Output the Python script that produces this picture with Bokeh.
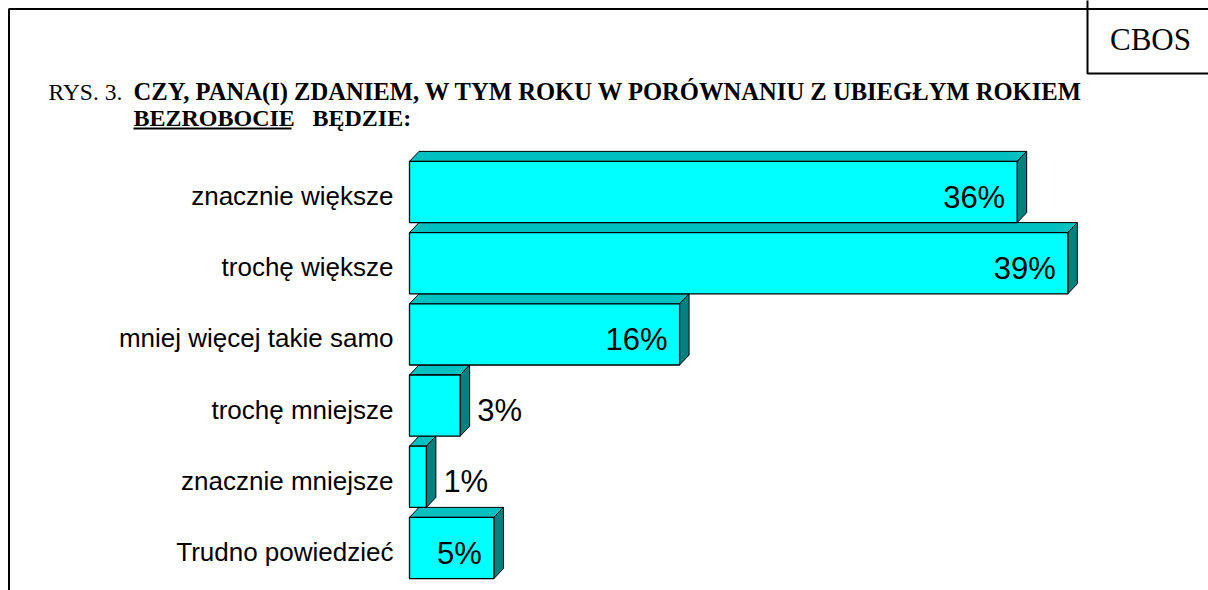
from bokeh.plotting import figure
from bokeh.models import Range1d, ColumnDataSource, Label, BoxAnnotation
from bokeh.embed import file_html
from bokeh.resources import INLINE
from bokeh.core.properties import value as pv

# ---- data ----
categories = ["znacznie większe", "trochę większe", "mniej więcej takie samo",
              "trochę mniejsze", "znacznie mniejsze", "Trudno powiedzieć"]
values = [36, 39, 16, 3, 1, 5]
value_labels = ["36%", "39%", "16%", "3%", "1%", "5%"]

title_prefix = "RYS. 3."
title_line1 = "CZY, PANA(I) ZDANIEM, W TYM ROKU W PORÓWNANIU Z UBIEGŁYM ROKIEM"
title_line2a = "BEZROBOCIE"
title_line2b = "BĘDZIE:"
source_tag = "CBOS"

# ---- layout constants ----
W, H = 1208, 590
PX_PER_PCT = 16.88
X0_PX = 409
ROW_PX = 71.2
ROW0_PX = 191.5
HALF = 0.43
DX = 9.5 / PX_PER_PCT
DY = 10 / ROW_PX

FRONT = "#00FFFF"
TOP = "#00C0C0"
SIDE = "#008080"

p = figure(width=W, height=H, output_backend="svg", toolbar_location=None,
           x_range=Range1d(-X0_PX / PX_PER_PCT, (W - X0_PX) / PX_PER_PCT),
           y_range=Range1d((H - ROW0_PX) / ROW_PX, -ROW0_PX / ROW_PX),
           x_axis_location=None, y_axis_location=None, min_border=0,
           outline_line_color=None, background_fill_color="white",
           border_fill_color="white")
p.grid.visible = False

idx = list(range(len(values)))

top_xs, top_ys, side_xs, side_ys = [], [], [], []
for i, v in zip(idx, values):
    t = i - HALF
    b = i + HALF
    top_xs.append([0, v, v + DX, DX])
    top_ys.append([t, t, t - DY, t - DY])
    side_xs.append([v, v + DX, v + DX, v])
    side_ys.append([t, t - DY, b - DY, b])

p.patches(top_xs, top_ys, fill_color=TOP, line_color="black", line_width=1)
p.patches(side_xs, side_ys, fill_color=SIDE, line_color="black", line_width=1)
p.quad(left=[0] * len(values), right=values,
       top=[i - HALF for i in idx], bottom=[i + HALF for i in idx],
       fill_color=FRONT, line_color="black", line_width=1.3)

# category labels
cat_src = ColumnDataSource(dict(x=[0] * len(values), y=[i + 4 / ROW_PX for i in idx], t=categories))
p.text(x="x", y="y", text="t", source=cat_src, x_offset=-16,
       text_font=pv("Liberation Sans"), text_font_size="26px",
       text_align="right", text_baseline="middle", text_color="black")

# value labels
inside = [v >= 5 for v in values]
in_src = ColumnDataSource(dict(x=[v for v, k in zip(values, inside) if k],
                               y=[i + 5 / ROW_PX for i, k in zip(idx, inside) if k],
                               t=[l for l, k in zip(value_labels, inside) if k]))
out_src = ColumnDataSource(dict(x=[v for v, k in zip(values, inside) if not k],
                                y=[i + 5 / ROW_PX for i, k in zip(idx, inside) if not k],
                                t=[l for l, k in zip(value_labels, inside) if not k]))
p.text(x="x", y="y", text="t", source=in_src, x_offset=-12,
       text_font=pv("Liberation Sans"), text_font_size="31px",
       text_align="right", text_baseline="middle", text_color="black")
p.text(x="x", y="y", text="t", source=out_src, x_offset=17,
       text_font=pv("Liberation Sans"), text_font_size="31px",
       text_align="left", text_baseline="middle", text_color="black")


def sx(px):
    return px


def sy(py):
    return H - py


def scr_box(l, r, t, b, **kw):
    return BoxAnnotation(left=sx(l), right=sx(r), top=sy(t), bottom=sy(b),
                         left_units="screen", right_units="screen",
                         top_units="screen", bottom_units="screen", **kw)


# frame (top + left line), open at right/bottom
p.add_layout(scr_box(8.5, 1500, 8.5, 900, fill_alpha=0, line_color="black",
                     line_alpha=1, line_width=2))
# CBOS box
p.add_layout(scr_box(1087, 1500, -100, 73, fill_alpha=0, line_color="black",
                     line_alpha=1, line_width=2))
p.add_layout(Label(x=sx(1150), y=sy(39), x_units="screen", y_units="screen",
                   text=source_tag, text_font="Liberation Serif", text_font_size="31px",
                   text_align="center", text_baseline="middle", text_color="black"))

# title
C1 = 91
C2 = 117
p.add_layout(Label(x=sx(48), y=sy(C1), x_units="screen", y_units="screen",
                   text=title_prefix, text_font="Liberation Serif", text_font_size="23.5px",
                   text_baseline="middle", text_color="black"))
p.add_layout(Label(x=sx(133), y=sy(C1), x_units="screen", y_units="screen",
                   text=title_line1, text_font="Liberation Serif", text_font_size="24.6px",
                   text_font_style="bold", text_baseline="middle", text_color="black"))
p.add_layout(Label(x=sx(133), y=sy(C2), x_units="screen", y_units="screen",
                   text=title_line2a, text_font="Liberation Serif", text_font_size="24px",
                   text_font_style="bold", text_baseline="middle", text_color="black"))
p.add_layout(Label(x=sx(312), y=sy(C2), x_units="screen", y_units="screen",
                   text=title_line2b, text_font="Liberation Serif", text_font_size="24px",
                   text_font_style="bold", text_baseline="middle", text_color="black"))
p.add_layout(scr_box(133, 291, C2 + 10, C2 + 12, fill_color="black", fill_alpha=1,
                     line_alpha=0))

open("out.html", "w").write(file_html(p, INLINE))
